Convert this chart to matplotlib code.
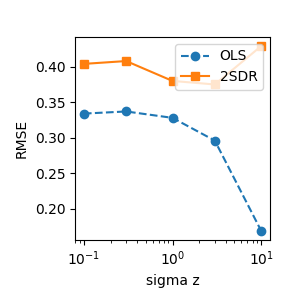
import matplotlib
matplotlib.use("Agg")
import matplotlib.pyplot as plt

sigma_z = [0.1, 0.3, 1, 3, 10]
rmse_ols = [0.334, 0.337, 0.328, 0.296, 0.169]
rmse_2sdr = [0.404, 0.408, 0.380, 0.375, 0.429]

fig, ax = plt.subplots(figsize=(3, 3), dpi=100)
ax.plot(sigma_z, rmse_ols, 'o--', label='OLS')
ax.plot(sigma_z, rmse_2sdr, 's-', label='2SDR')
ax.set_xscale('log')
ax.set_xlabel('sigma z')
ax.set_ylabel('RMSE')
ax.legend(loc='upper right')
fig.subplots_adjust(left=0.25, right=0.9, top=0.877, bottom=0.2)
fig.savefig('out.png')
